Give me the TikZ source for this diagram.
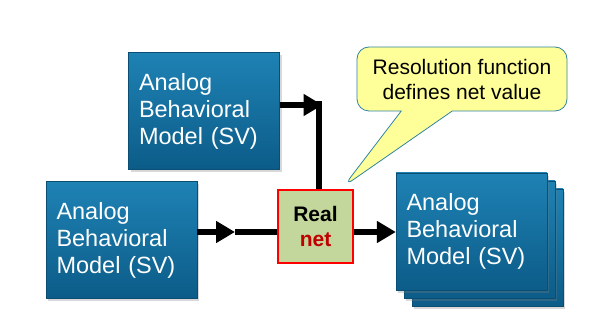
\documentclass[tikz,border=0pt]{standalone}
\usepackage{fontspec}
\setmainfont{Liberation Sans}
\usetikzlibrary{shapes.callouts, arrows.meta, shadows, calc}
\definecolor{abmtop}{RGB}{30,130,180}
\definecolor{abmbot}{RGB}{12,92,136}
\definecolor{abmedge}{RGB}{10,78,115}
\definecolor{netfill}{RGB}{195,214,155}
\definecolor{netred}{RGB}{192,0,0}
\definecolor{notefill}{RGB}{255,255,153}
\definecolor{noteedge}{RGB}{49,133,160}
\tikzstyle{abm} = [rectangle, minimum width=151pt, minimum height=117pt,
text width=130pt, inner xsep=10.5pt, align=left,
top color=abmtop, bottom color=abmbot, draw=abmedge,
text=white, font=\fontsize{23.5}{27}\selectfont,
drop shadow={shadow xshift=2pt,shadow yshift=-3pt,opacity=0.3}]
\tikzstyle{netbox} = [rectangle, minimum width=75pt, minimum height=73pt,
fill=netfill, draw=red, line width=1.2pt, align=center,
font=\bfseries\fontsize{21}{25}\selectfont]
\tikzstyle{note} = [rectangle callout, rounded corners=12pt,
minimum width=210pt, minimum height=64pt, align=center,
fill=notefill, draw=noteedge, line width=0.8pt,
callout pointer width=51pt,
font=\fontsize{21}{25}\selectfont]
\tikzstyle{arrow} = [line width=6.5pt,-{Triangle[length=19pt,width=21pt]}]
\tikzstyle{wire} = [line width=6.5pt]

\begin{document}
\begin{tikzpicture}[x=1pt,y=1pt]
\fill[white] (0,0) rectangle (606,327);
\useasboundingbox (0,0) rectangle (606,327);

\node (svTop) [abm] at (204,216) {Analog\\Behavioral\\Model (SV)};
\node (svLeft) [abm] at (121.5,87) {Analog\\Behavioral\\Model (SV)};
\node (net) [netbox] at (315.5,100.5) {Real\\\textcolor{netred}{net}};

% output model, stacked three deep
\node (svOut3) [abm] at (487.5,79.5) {};
\node (svOut2) [abm] at (479.5,87.5) {};
\node (svOut) [abm] at (471.5,95.5) {Analog\\Behavioral\\Model (SV)};

\node (resnote) [note, callout absolute pointer={($(net.north east)+(-10,3)$)}]
at (462,248) {Resolution function\\defines net value};

\coordinate (mid) at (235,95);
\coordinate (tip) at (322.5,222);
\coordinate (bend) at (319,225.5);

\draw [arrow] (svLeft.east |- mid) -- (mid);
\draw [wire] (mid) -- (net.west |- mid);
\draw [arrow] (net.east |- mid) -- (svOut.west |- mid);
\draw [arrow] (svTop.east |- tip) -- (tip);
\draw [wire] (bend) -- (net.north -| bend);

\end{tikzpicture}
\end{document}
